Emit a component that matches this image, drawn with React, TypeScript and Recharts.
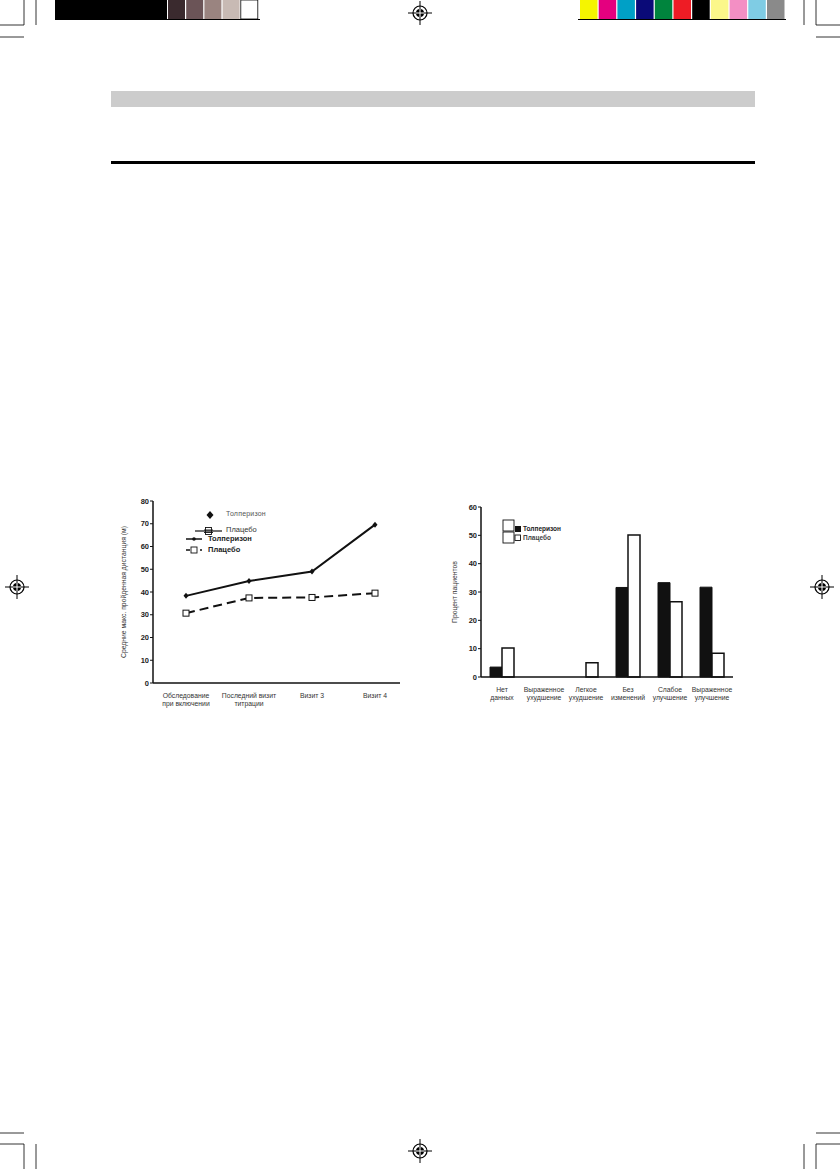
import React from "react";
import {
  LineChart, Line, BarChart, Bar, XAxis, YAxis,
} from "recharts";

// ---- data ----
const visitLabels = ["Обследование\nпри включении", "Последний визит\nтитрации", "Визит 3", "Визит 4"];
const tolperisonDistance = [38.3, 44.8, 49.0, 69.6];
const placeboDistance = [30.7, 37.4, 37.6, 39.5];
const distanceTicks = [0, 10, 20, 30, 40, 50, 60, 70, 80];

const outcomeLabels = [
  "Нет\nданных",
  "Выраженное\nухудшение",
  "Легкое\nухудшение",
  "Без\nизменений",
  "Слабое\nулучшение",
  "Выраженное\nулучшение",
];
const tolperisonPercent = [3.5, 0, 0, 31.6, 33.3, 31.7];
const placeboPercent = [10.2, 0, 5, 50.1, 26.6, 8.4];
const percentTicks = [0, 10, 20, 30, 40, 50, 60];

const seriesNames = ["Толперизон", "Плацебо"];

const lineData = visitLabels.map((v, i) => ({
  visit: v,
  tol: tolperisonDistance[i],
  pla: placeboDistance[i],
}));
const barData = outcomeLabels.map((o, i) => ({
  outcome: o,
  tol: tolperisonPercent[i],
  pla: placeboPercent[i],
}));

const FONT = "'Liberation Sans', Arial, sans-serif";

const MultiLineTick = (props: any) => {
  const { x, y, payload } = props;
  const lines = String(payload.value).split("\n");
  return (
    <text x={x} y={y} textAnchor="middle" fontFamily={FONT} fontSize={6.8} fill="#333">
      {lines.map((l, i) => (
        <tspan key={i} x={x} dy={i === 0 ? 7 : 8.2}>{l}</tspan>
      ))}
    </text>
  );
};

const SquareDot = (props: any) => {
  const { cx, cy, index } = props;
  if (cx == null || cy == null) return <g key={index} />;
  return <rect key={index} x={cx - 3} y={cy - 3} width={6} height={6} fill="#fff" stroke="#111" strokeWidth={1} />;
};
const SmallDot = (props: any) => {
  const { cx, cy, index } = props;
  if (cx == null || cy == null) return <g key={index} />;
  return <path key={index} d={`M${cx} ${cy - 3} L${cx + 2.5} ${cy} L${cx} ${cy + 3} L${cx - 2.5} ${cy} Z`} fill="#111" />;
};

const RegMark = ({ x, y }: { x: number; y: number }) => (
  <g>
    <line x1={x - 12} y1={y} x2={x + 12} y2={y} stroke="#000" strokeWidth={1} />
    <line x1={x} y1={y - 12} x2={x} y2={y + 12} stroke="#000" strokeWidth={1} />
    <circle cx={x} cy={y} r={7} fill="none" stroke="#000" strokeWidth={1.2} />
    <circle cx={x} cy={y} r={4} fill="#000" />
    <line x1={x - 4} y1={y} x2={x + 4} y2={y} stroke="#fff" strokeWidth={1} />
    <line x1={x} y1={y - 4} x2={x} y2={y + 4} stroke="#fff" strokeWidth={1} />
  </g>
);

const leftSwatches = ["#3a2a2e", "#6b5457", "#9a8480", "#c8bab4", "#ffffff"];
const rightSwatches = ["#f5f500", "#e4007f", "#00a0c6", "#0a0a78", "#00843d", "#ee1c25", "#000000", "#fbf78a", "#f38fc4", "#7fcce4", "#8a8a8a"];

const PageMarks = () => (
  <svg width={840} height={1169} style={{ position: "absolute", left: 0, top: 0 }}>
    {/* top color bars */}
    <rect x={55} y={0} width={112} height={19} fill="#000" />
    {leftSwatches.map((c, i) => (
      <rect key={i} x={168 + i * 18.2} y={0} width={17} height={19} fill={c} stroke={c === "#ffffff" ? "#000" : "none"} strokeWidth={0.8} />
    ))}
    <line x1={55} y1={19.5} x2={260} y2={19.5} stroke="#000" strokeWidth={1} />
    {rightSwatches.map((c, i) => (
      <rect key={i} x={580 + i * 18.7} y={0} width={17.5} height={19} fill={c} />
    ))}
    <line x1={578} y1={19.5} x2={786} y2={19.5} stroke="#000" strokeWidth={1} />
    {/* crop marks */}
    <g stroke="#000" strokeWidth={0.8}>
      <line x1={24} y1={0} x2={24} y2={25} />
      <line x1={36} y1={0} x2={36} y2={25} />
      <line x1={0} y1={25} x2={24} y2={25} />
      <line x1={0} y1={37} x2={24} y2={37} />
      <line x1={804} y1={0} x2={804} y2={25} />
      <line x1={816} y1={0} x2={816} y2={25} />
      <line x1={816} y1={25} x2={840} y2={25} />
      <line x1={816} y1={37} x2={840} y2={37} />
      <line x1={0} y1={1133} x2={24} y2={1133} />
      <line x1={0} y1={1144} x2={24} y2={1144} />
      <line x1={24} y1={1144} x2={24} y2={1169} />
      <line x1={36} y1={1144} x2={36} y2={1169} />
      <line x1={816} y1={1133} x2={840} y2={1133} />
      <line x1={816} y1={1144} x2={840} y2={1144} />
      <line x1={816} y1={1144} x2={816} y2={1169} />
      <line x1={804} y1={1144} x2={804} y2={1169} />
    </g>
    <RegMark x={420} y={13} />
    <RegMark x={17} y={587} />
    <RegMark x={822} y={587} />
    <RegMark x={420} y={1151} />
    {/* header band and rule */}
    <rect x={111} y={91} width={644} height={16} fill="#cccccc" />
    <rect x={111} y={161} width={644} height={3} fill="#000" />
  </svg>
);

const legendText: React.CSSProperties = { position: "absolute", fontFamily: FONT, whiteSpace: "nowrap", lineHeight: 1 };

export default function App() {
  return (
    <div style={{ position: "absolute", left: 0, top: 0, width: 840, height: 1169, background: "#fff", overflow: "hidden" }}>
      <PageMarks />

      {/* Left chart */}
      <div style={{ position: "absolute", left: 110, top: 490, width: 300, height: 230 }}>
        <LineChart width={300} height={230} data={lineData} margin={{ top: 11, right: 10, bottom: 7, left: 0 }}>
          <XAxis
            dataKey="visit"
            padding={{ left: 33, right: 25 }}
            tick={<MultiLineTick />}
            tickLine={false}
            axisLine={{ stroke: "#111", strokeWidth: 1.5 }}
            height={30}
            interval={0}
          />
          <YAxis
            domain={[0, 80]}
            ticks={distanceTicks}
            width={43}
            tickSize={3}
            tickMargin={1}
            tickLine={{ stroke: "#111" }}
            axisLine={{ stroke: "#111", strokeWidth: 1.5 }}
            tick={{ fontFamily: FONT, fontSize: 7.5, fontWeight: 700, fill: "#222" }}
            label={{
              value: "Средние макс. пройденная дистанция (м)",
              angle: -90,
              position: "insideLeft",
              offset: 14,
              style: { fontFamily: FONT, fontSize: 6.8, fill: "#333", textAnchor: "middle" },
            }}
          />
          <Line
            dataKey="tol"
            name={seriesNames[0]}
            stroke="#111"
            strokeWidth={2}
            dot={<SmallDot />}
            isAnimationActive={false}
          />
          <Line
            dataKey="pla"
            name={seriesNames[1]}
            stroke="#111"
            strokeWidth={2}
            strokeDasharray="9 5"
            dot={<SquareDot />}
            isAnimationActive={false}
          />
        </LineChart>
        {/* legend */}
        <svg width={60} height={50} style={{ position: "absolute", left: 70, top: 18 }}>
          <path d="M30 3 L33.5 7 L30 11 L26.5 7 Z" fill="#111" />
          <line x1={15} y1={23} x2={42} y2={23} stroke="#111" strokeWidth={1.2} />
          <rect x={25.5} y={19.5} width={6} height={7} fill="none" stroke="#111" strokeWidth={0.9} />
          <line x1={24} y1={22} x2={33} y2={22} stroke="#111" strokeWidth={0.9} />
          <line x1={24} y1={24.5} x2={33} y2={24.5} stroke="#111" strokeWidth={0.9} />
          <line x1={6} y1={31} x2={22} y2={31} stroke="#111" strokeWidth={1.5} />
          <circle cx={14} cy={31} r={1.8} fill="#111" />
          <line x1={6} y1={42} x2={22} y2={42} stroke="#111" strokeWidth={1.5} strokeDasharray="4 3" />
          <rect x={11} y={39} width={6} height={6} fill="#fff" stroke="#111" strokeWidth={0.9} />
        </svg>
        <div style={{ ...legendText, left: 116, top: 20, fontSize: 7, color: "#555", fontWeight: 300, letterSpacing: 0.2 }}>{seriesNames[0]}</div>
        <div style={{ ...legendText, left: 116, top: 36, fontSize: 7.5, color: "#333" }}>{seriesNames[1]}</div>
        <div style={{ ...legendText, left: 98, top: 45, fontSize: 7.5, fontWeight: 700, color: "#222" }}>{seriesNames[0]}</div>
        <div style={{ ...legendText, left: 98, top: 56, fontSize: 7.5, fontWeight: 700, color: "#222" }}>{seriesNames[1]}</div>
      </div>

      {/* Right chart */}
      <div style={{ position: "absolute", left: 440, top: 495, width: 300, height: 220 }}>
        <BarChart width={300} height={220} data={barData} margin={{ top: 12, right: 7, bottom: 6, left: 0 }} barGap={0} barCategoryGap={9}>
          <XAxis
            dataKey="outcome"
            tick={<MultiLineTick />}
            tickLine={false}
            axisLine={{ stroke: "#111", strokeWidth: 1.5 }}
            height={32}
            interval={0}
          />
          <YAxis
            domain={[0, 60]}
            ticks={percentTicks}
            width={41}
            tickSize={3}
            tickMargin={1}
            tickLine={{ stroke: "#111" }}
            axisLine={{ stroke: "#111", strokeWidth: 1.5 }}
            tick={{ fontFamily: FONT, fontSize: 7.5, fontWeight: 700, fill: "#222" }}
            label={{
              value: "Процент пациентов",
              angle: -90,
              position: "insideLeft",
              offset: 15,
              style: { fontFamily: FONT, fontSize: 6.8, fill: "#333", textAnchor: "middle" },
            }}
          />
          <Bar dataKey="tol" name={seriesNames[0]} fill="#111" stroke="#111" strokeWidth={1} barSize={12} isAnimationActive={false} />
          <Bar dataKey="pla" name={seriesNames[1]} fill="#fff" stroke="#111" strokeWidth={1.5} barSize={12} isAnimationActive={false} />
        </BarChart>
        {/* legend */}
        <svg width={30} height={30} style={{ position: "absolute", left: 62, top: 24 }}>
          <rect x={1} y={1} width={11} height={11} fill="none" stroke="#111" strokeWidth={0.9} />
          <rect x={1} y={13} width={11} height={11} fill="none" stroke="#111" strokeWidth={0.9} />
          <rect x={13} y={7} width={6} height={6} fill="#111" />
          <rect x={13} y={16} width={5.5} height={5.5} fill="#fff" stroke="#111" strokeWidth={0.9} />
        </svg>
        <div style={{ ...legendText, left: 83, top: 31, fontSize: 6.5, fontWeight: 700, color: "#222" }}>{seriesNames[0]}</div>
        <div style={{ ...legendText, left: 83, top: 40, fontSize: 6.5, fontWeight: 700, color: "#444" }}>{seriesNames[1]}</div>
      </div>
    </div>
  );
}
